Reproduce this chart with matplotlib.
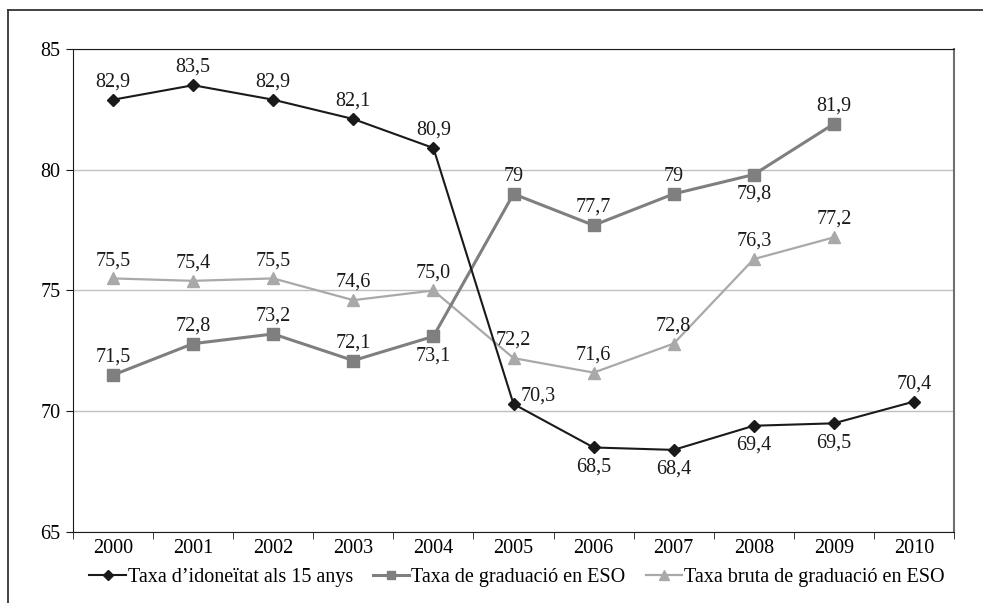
import numpy as np
import matplotlib.pyplot as plt
from matplotlib.lines import Line2D

plt.rcParams['font.family'] = ['Liberation Serif', 'DejaVu Serif']

years = ['2000', '2001', '2002', '2003', '2004', '2005', '2006', '2007', '2008', '2009', '2010']
idoneitat = [82.9, 83.5, 82.9, 82.1, 80.9, 70.3, 68.5, 68.4, 69.4, 69.5, 70.4]
graduacio = [71.5, 72.8, 73.2, 72.1, 73.1, 79.0, 77.7, 79.0, 79.8, 81.9]
bruta = [75.5, 75.4, 75.5, 74.6, 75.0, 72.2, 71.6, 72.8, 76.3, 77.2]

idoneitat_txt = ['82,9', '83,5', '82,9', '82,1', '80,9', '70,3', '68,5', '68,4', '69,4', '69,5', '70,4']
graduacio_txt = ['71,5', '72,8', '73,2', '72,1', '73,1', '79', '77,7', '79', '79,8', '81,9']
bruta_txt = ['75,5', '75,4', '75,5', '74,6', '75,0', '72,2', '71,6', '72,8', '76,3', '77,2']

# label placement: 'a' above, 'b' below, 'r' right
idoneitat_pos = ['a', 'a', 'a', 'a', 'a', 'r', 'b', 'b', 'b', 'b', 'a']
graduacio_pos = ['a', 'a', 'a', 'a', 'b', 'a', 'a', 'a', 'b', 'a']
bruta_pos = ['a'] * 10

c_black = '#1a1a1a'
c_dark = '#7f7f7f'
c_light = '#a9a9a9'
fs = 14.5

fig = plt.figure(figsize=(9.83, 6.03), dpi=100)
ax = fig.add_axes([73 / 983, 71 / 603, 881 / 983, 483 / 603])

x = np.arange(len(years))
ax.plot(x, idoneitat, color=c_black, lw=1.5, marker='D', ms=6.5, zorder=4)
ax.plot(x[:len(graduacio)], graduacio, color=c_dark, lw=2.2, marker='s', ms=8, zorder=3)
ax.plot(x[:len(bruta)], bruta, color=c_light, lw=1.6, marker='^', ms=9, zorder=2)


def put_labels(vals, txts, pos):
    for i, (v, t, p) in enumerate(zip(vals, txts, pos)):
        if p == 'a':
            ax.annotate(t, (i, v), xytext=(0, 6), textcoords='offset points',
                        ha='center', va='bottom', fontsize=fs, color='#1a1a1a')
        elif p == 'b':
            ax.annotate(t, (i, v), xytext=(0, -7), textcoords='offset points',
                        ha='center', va='top', fontsize=fs, color='#1a1a1a')
        else:
            ax.annotate(t, (i, v), xytext=(5, -1), textcoords='offset points',
                        ha='left', va='bottom', fontsize=fs, color='#1a1a1a')


put_labels(idoneitat, idoneitat_txt, idoneitat_pos)
put_labels(graduacio, graduacio_txt, graduacio_pos)
put_labels(bruta, bruta_txt, bruta_pos)

ax.set_ylim(65, 85)
ax.set_yticks([65, 70, 75, 80, 85])
ax.set_xlim(-0.5, len(years) - 0.5)
ax.set_xticks(x)
ax.set_xticklabels(years)
ax.set_xticks(np.arange(-0.5, len(years)), minor=True)
ax.tick_params(axis='x', which='major', length=0, labelsize=fs, pad=5)
ax.tick_params(axis='x', which='minor', length=5, direction='out', color=c_black)
ax.tick_params(axis='y', length=5, direction='out', labelsize=fs, pad=4, color=c_black)

ax.grid(axis='y', color='#c0c0c0', lw=1)
ax.set_axisbelow(True)
for s in ['left', 'bottom', 'top']:
    ax.spines[s].set_color(c_black)
ax.spines['right'].set_color('#707070')
ax.spines['right'].set_linewidth(1.5)

handles = [
    Line2D([], [], color=c_black, lw=1.5, marker='D', ms=5),
    Line2D([], [], color=c_dark, lw=2.2, marker='s', ms=6),
    Line2D([], [], color=c_light, lw=1.6, marker='^', ms=7),
]
labels = ["Taxa d\u2019idoneïtat als 15 anys", 'Taxa de graduació en ESO',
          'Taxa bruta de graduació en ESO']
fig.legend(handles, labels, loc='center', bbox_to_anchor=(517 / 983, 1 - 577 / 603), ncol=3,
           frameon=False, fontsize=fs, handlelength=1.8, handletextpad=0.1,
           columnspacing=1.0)

# outer frame (left and top edges)
fig.add_artist(Line2D([8 / 983, 8 / 983], [0, 1 - 10 / 603], transform=fig.transFigure,
                      color='#333333', lw=1.3))
fig.add_artist(Line2D([8 / 983, 1], [1 - 10 / 603, 1 - 10 / 603], transform=fig.transFigure,
                      color='#333333', lw=1.3))

plt.savefig('out.png', dpi=100)
